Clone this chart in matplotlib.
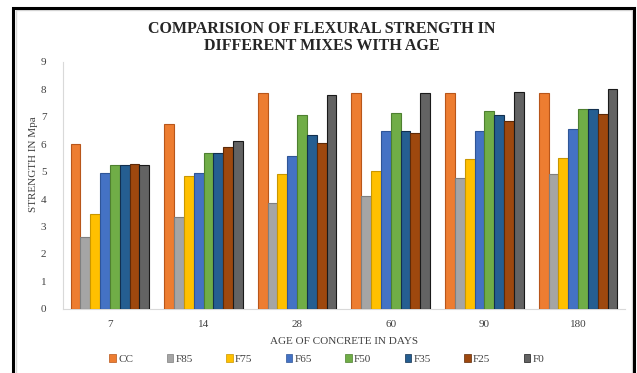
import numpy as np
import matplotlib
matplotlib.use("Agg")
import matplotlib.pyplot as plt
from matplotlib.patches import Rectangle, Patch

# data
ages = ["7", "14", "28", "60", "90", "180"]
mixes = ["CC", "F85", "F75", "F65", "F50", "F35", "F25", "F0"]
cc = [6.0, 6.72, 7.86, 7.86, 7.86, 7.88]
f85 = [2.62, 3.33, 3.84, 4.11, 4.78, 4.90]
f75 = [3.46, 4.84, 4.90, 5.03, 5.45, 5.51]
f65 = [4.96, 4.96, 5.57, 6.47, 6.47, 6.57]
f50 = [5.23, 5.69, 7.05, 7.15, 7.22, 7.28]
f35 = [5.23, 5.69, 6.33, 6.47, 7.05, 7.28]
f25 = [5.29, 5.89, 6.03, 6.40, 6.84, 7.11]
f0 = [5.23, 6.11, 7.78, 7.85, 7.89, 8.02]
series = [cc, f85, f75, f65, f50, f35, f25, f0]

colors = ["#ED7D31", "#A5A5A5", "#FFC000", "#4472C4", "#70AD47", "#255E91", "#9E480E", "#636363"]
edges = ["#B8561A", "#7F7F7F", "#C99700", "#2F5597", "#4E8030", "#122F4E", "#5E2A08", "#1A1A1A"]

plt.rcParams['font.family'] = ['Liberation Serif', 'DejaVu Serif']

fig = plt.figure(figsize=(6.37, 3.73), dpi=100)
ax = fig.add_axes([0.099, 0.172, 0.882, 0.662])

x = np.arange(len(ages))
w = 0.105
for i, vals in enumerate(series):
    ax.bar(x + (i - 3.5) * w, vals, w, color=colors[i], edgecolor=edges[i],
           linewidth=0.8, label=mixes[i], zorder=3)

ax.set_ylim(0, 9)
ax.set_xlim(-0.5, len(ages) - 0.5)
ax.set_yticks(range(10))
ax.set_xticks(x)
ax.set_xticklabels(ages)
ax.tick_params(length=0, labelsize=8, colors="#404040")
ax.tick_params(axis="x", pad=8)
ax.tick_params(axis="y", pad=12)
for s in ["top", "right"]:
    ax.spines[s].set_visible(False)
for s in ["left", "bottom"]:
    ax.spines[s].set_color("#D9D9D9")
    ax.spines[s].set_linewidth(0.8)

ax.set_xlabel("AGE OF CONCRETE IN DAYS", fontsize=8, color="#404040", labelpad=6)
fig.text(0.052, 0.56, "STRENGTH IN Mpa", rotation=90, ha="center", va="center",
         fontsize=8, color="#404040")

fig.text(0.505, 0.9, "COMPARISION OF FLEXURAL STRENGTH IN\nDIFFERENT MIXES WITH AGE",
         ha="center", va="center", fontsize=11.5, fontweight="bold",
         color="#262626", linespacing=1.1)

handles = [Patch(facecolor=colors[i], edgecolor=edges[i], linewidth=0.5) for i in range(len(mixes))]
fig.legend(handles, mixes, loc="center", bbox_to_anchor=(0.513, 0.037), ncol=8,
           frameon=False, fontsize=8, handlelength=0.6, handleheight=0.6,
           handletextpad=0.2, columnspacing=3.0, labelcolor="#404040")

# chart frame
fig.patches.append(Rectangle((15.5 / 637, -0.05), 616 / 637, 1.05 - 10 / 373,
                             transform=fig.transFigure, fill=False,
                             edgecolor="#D9D9D9", linewidth=1.0))
fig.patches.append(Rectangle((13 / 637, -0.05), 621 / 637, 1.05 - 8 / 373,
                             transform=fig.transFigure, fill=False,
                             edgecolor="black", linewidth=2.2))

fig.savefig("out.png", dpi=100)
